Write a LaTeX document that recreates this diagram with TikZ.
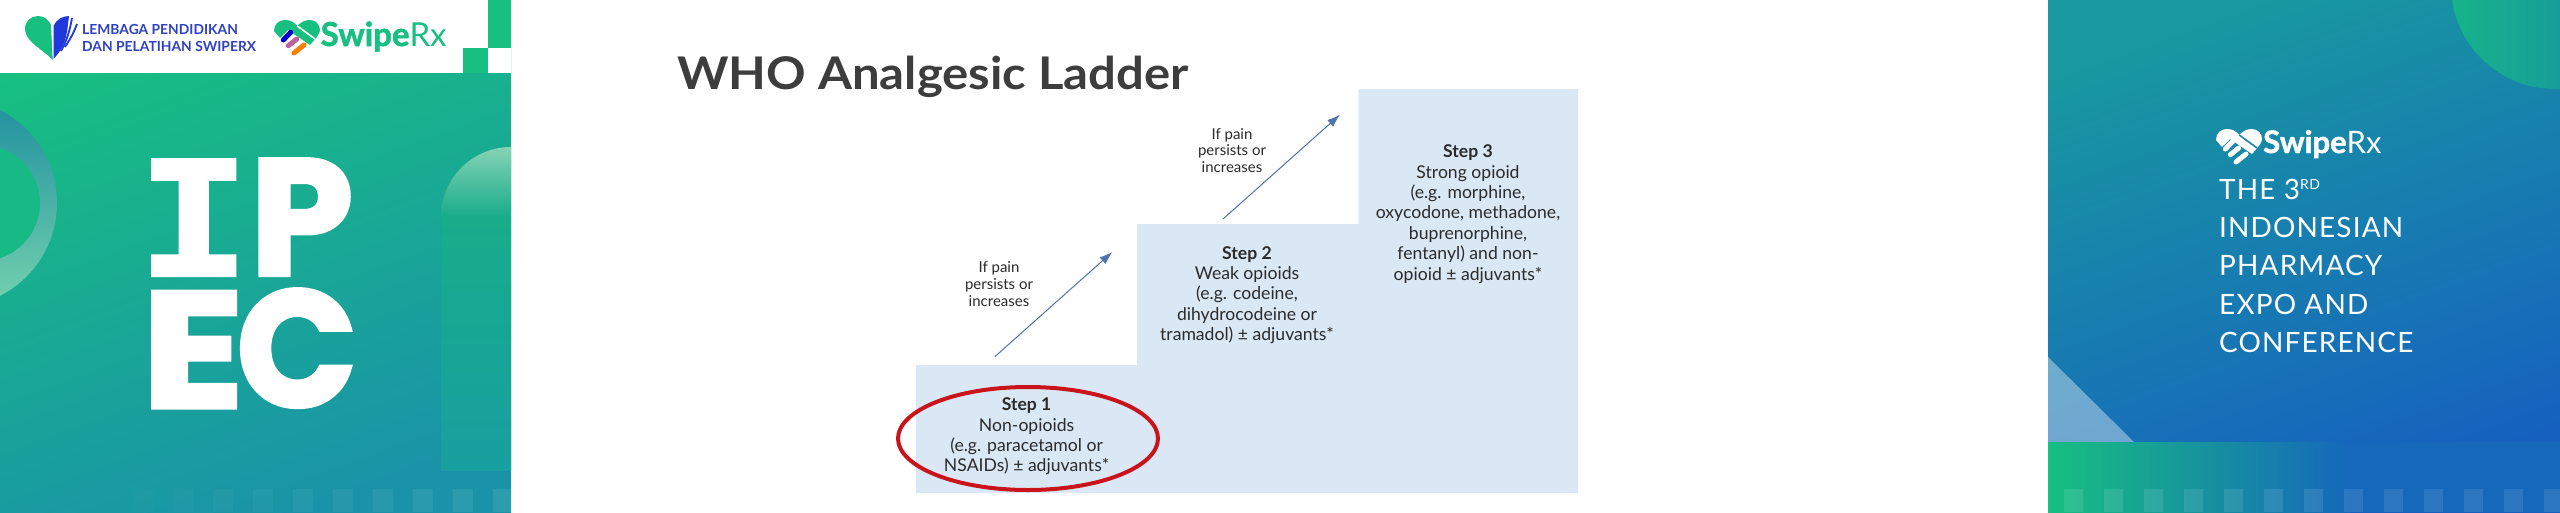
\documentclass[tikz,border=0pt]{standalone}
\usepackage{fontspec}
\setmainfont{Lato}
\newfontfamily\ipecslab[FakeBold=1.5]{DejaVu Sans Mono}
\newfontfamily\ipecsans[FakeBold=2.5]{Poppins}
\newfontfamily\swipebold[FakeBold=1.5]{Lato}
\newfontfamily\expofont[LetterSpace=4]{Lato}
\usetikzlibrary{positioning,calc,arrows.meta,shapes.geometric}
\definecolor{swipegreen}{HTML}{17BF80}
\definecolor{leftmid}{HTML}{16B48A}
\definecolor{leftfoot}{HTML}{1A93A8}
\definecolor{ringtop}{HTML}{2090A0}
\definecolor{ringfoot}{HTML}{75D2AE}
\definecolor{discgreen}{HTML}{17BA84}
\definecolor{domelight}{HTML}{85D3B5}
\definecolor{domefoot}{HTML}{18AC8A}
\definecolor{domeend}{HTML}{189FA0}
\definecolor{paneltop}{HTML}{1898A0}
\definecolor{panelfoot}{HTML}{1660C0}
\definecolor{laddertext}{HTML}{2B2B2B}
\definecolor{titlegrey}{HTML}{3D3D3D}
\definecolor{stairblue}{HTML}{DAE8F5}
\definecolor{ringred}{HTML}{C9141C}
\definecolor{arrowblue}{HTML}{4472B4}
\definecolor{lembagablue}{HTML}{2F41C4}
\definecolor{bookblue}{HTML}{2038DC}
\tikzset{
	stepnode/.style={align=center, inner sep=0pt, text=laddertext, font=\fontsize{17.6}{20.4}\selectfont},
	pernode/.style={align=center, inner sep=0pt, text=laddertext, font=\fontsize{15}{16.8}\selectfont},
	rise/.style={-{Latex[length=13pt,width=9pt]}, arrowblue!80!gray, line width=1pt},
	letter/.style={anchor=base west, inner sep=0pt, text=white, transform shape},
	expoline/.style={anchor=base west, inner sep=0pt, text=white, font=\expofont\fontsize{28}{28}\selectfont},
	pics/swipeheart/.style n args={5}{code={
		\fill[#1] (0,11) .. controls (0,4) and (5,0) .. (11,0) .. controls (16,0) and (20,2) .. (23.3,6)
			.. controls (27,2) and (31,0) .. (36,0) .. controls (42,0) and (46,5) .. (46,10)
			.. controls (46,14) and (42,18) .. (36,25) -- (14,10) -- (6,18) -- cycle;
		\draw[#5, line width=1.6pt] (23.3,6) -- (41,19);
		\draw[#2, line width=5pt, line cap=round] (9.3,20) -- (16.7,12.3);
		\draw[#3, line width=5pt, line cap=round] (14.3,25.7) -- (22.7,19);
		\draw[#4, line width=5pt, line cap=round] (20,33) -- (30,25);
	}},
}
\begin{document}
\begin{tikzpicture}[x=1pt, y=-1pt]
	\useasboundingbox (0,0) rectangle (2560,512);
	\fill[white] (0,0) rectangle (2560,512);

	\shade[top color=swipegreen, middle color=leftmid, bottom color=leftfoot, shading angle=20] (0,0) rectangle (511,512);
	\begin{scope}
		\clip (0,0) rectangle (511,512);
		\shade[top color=ringtop, middle color=swipegreen, bottom color=ringfoot] (-47,203) circle (104);
		\fill[discgreen] (-18,203) circle (58);
		\shade[top color=domelight, bottom color=domefoot] (441,217) arc (180:270:70) -- (511,217) -- cycle;
		\shade[top color=domefoot, middle color=swipegreen, bottom color=domeend] (441,217) rectangle (511,470);
		\foreach \i in {0,...,9}
			\fill[white, opacity={0.015+0.008*\i}] ({133+40*\i},489) rectangle ({153+40*\i},512);
	\end{scope}
	\fill[white] (0,0) rectangle (511,73);
	\fill[swipegreen] (488,0) rectangle (511,48);
	\fill[swipegreen] (463,48) rectangle (488,73);

	\fill[swipegreen] (52.7,60) .. controls (44,50) and (25,42) .. (25,29) .. controls (25,21) and (31,16) .. (38,16) .. controls (44,16) and (49,20) .. (51,25) -- cycle;
	\fill[bookblue] (53.5,59) -- (53.5,26) .. controls (56,20) and (62,16) .. (69,16) -- (67,32) .. controls (65,44) and (60,52) .. (53.5,59) -- cycle;
	\draw[bookblue, line width=1.8pt] (72,18) .. controls (70,30) and (67,40) .. (61,51);
	\draw[bookblue, line width=1.8pt] (77,24) .. controls (74,32) and (71,38) .. (65,47);
	\node[anchor=base west, inner sep=0pt, text=lembagablue, align=left, font=\bfseries\fontsize{13.85}{17}\selectfont] (lembaga) at (82,51.5) {LEMBAGA PENDIDIKAN\\DAN PELATIHAN SWIPERX};

	\pic at (274,20) {swipeheart={swipegreen}{blue!80!black}{violet!50!pink}{orange}{white}};
	\node[anchor=base west, inner sep=0pt, text=swipegreen, font=\fontsize{33}{33}\selectfont] (swipelogo) at (320.5,46) {{\swipebold\bfseries Swipe}Rx};

	\node[letter, xscale=1.184, font=\ipecslab\bfseries\fontsize{160}{160}\selectfont] (letterI) at (136.5,276) {I};
	\node[letter, font=\ipecsans\bfseries\fontsize{165}{165}\selectfont] (letterP) at (250,275) {P};
	\node[letter, xscale=1.146, font=\ipecsans\bfseries\fontsize{165}{165}\selectfont] (letterE) at (141.5,407.5) {E};
	\node[letter, xscale=0.957, font=\ipecsans\bfseries\fontsize{165}{165}\selectfont] (letterC) at (236.5,406.3) {C};

	\node[anchor=base west, inner sep=0pt, text=titlegrey, xscale=1.09, transform shape, font=\bfseries\fontsize{45}{45}\selectfont] (title) at (677,89) {WHO Analgesic Ladder};

	\fill[stairblue] (916,493) |- (1137,365) |- (1358.5,224) |- (1578,89) -- (1578,493) -- cycle;

	\node[stepnode] (stepone) at (1026.6,436.5) {\textbf{Step 1}\\Non-opioids\\(e.g. paracetamol or\\NSAIDs) ± adjuvants*};
	\node[stepnode] (steptwo) at (1247,295) {\textbf{Step 2}\\Weak opioids\\(e.g. codeine,\\dihydrocodeine or\\tramadol) ± adjuvants*};
	\node[stepnode] (stepthree) at (1468,214) {\textbf{Step 3}\\Strong opioid\\(e.g. morphine,\\oxycodone, methadone,\\buprenorphine,\\fentanyl) and non-\\opioid ± adjuvants*};
	\node[pernode] (perone) at (999,284) {If pain\\persists or\\increases};
	\node[pernode] (pertwo) at (1232,150.5) {If pain\\persists or\\increases};

	\coordinate (riseonea) at (994.8,356.7);
	\coordinate (riseoneb) at (1112.3,252);
	\coordinate (risetwoa) at (1223,219);
	\coordinate (risetwob) at (1340,114.7);
	\draw[rise] (riseonea) -- (riseoneb);
	\draw[rise] (risetwoa) -- (risetwob);

	\node[draw=ringred, line width=4pt, ellipse, minimum width=260pt, minimum height=103pt, inner sep=0pt] (ring) at (1028,438.5) {};

	\shade[top color=paneltop, bottom color=panelfoot, shading angle=20] (2048,0) rectangle (2560,512);
	\begin{scope}
		\clip (2048,0) rectangle (2560,512);
		\shade[left color=swipegreen!70!paneltop, right color=paneltop!75!panelfoot] (2555,-15) circle (104);
		\fill[white, opacity=0.38] (2048,357) -- (2048,442) -- (2134,442) -- cycle;
		\shade[left color=swipegreen, right color=panelfoot!92!swipegreen] (2048,442) rectangle (2350,512);
		\fill[panelfoot!92!swipegreen] (2350,442) rectangle (2560,512);
		\foreach \i in {0,...,12}
			\fill[white, opacity=0.1] ({2064+40*\i},489) rectangle ({2083+40*\i},512);
	\end{scope}

	\pic at (2216,129) {swipeheart={white}{white}{white}{white}{paneltop!70!panelfoot}};
	\node[anchor=base west, inner sep=0pt, text=white, font=\fontsize{31}{31}\selectfont] (swipewhite) at (2263,153) {{\swipebold\bfseries Swipe}Rx};

	\node[expoline] (expoa) at (2219,199) {THE 3\raisebox{10pt}{\fontsize{14}{14}\selectfont RD}};
	\node[expoline] (expob) at (2219,237) {INDONESIAN};
	\node[expoline] (expoc) at (2219,275) {PHARMACY};
	\node[expoline] (expod) at (2219,314) {EXPO AND};
	\node[expoline] (expoe) at (2219,352) {CONFERENCE};
\end{tikzpicture}
\end{document}
